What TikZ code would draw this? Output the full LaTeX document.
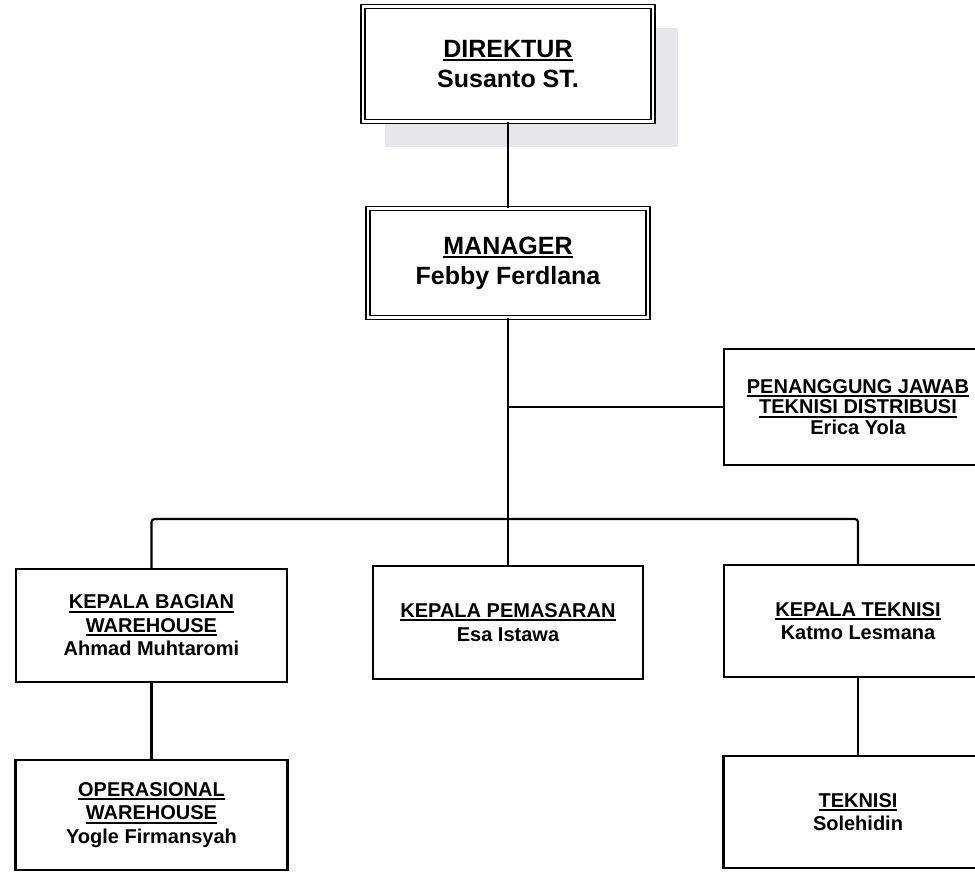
\documentclass[tikz,border=0pt]{standalone}
\usepackage{fontspec}
\setmainfont{Liberation Sans}
\definecolor{shadowgray}{RGB}{231,231,235}
\newcommand\ulx[1]{\setbox0=\hbox{#1}\rlap{\rule[-3.8pt]{\wd0}{2pt}}\box0}
\tikzset{
  bigbox/.style={draw=black, double=white, double distance=2.5pt, line width=1.4pt, fill=white,
    inner sep=0pt, align=center, font=\bfseries\fontsize{25}{30}\selectfont},
  smallbox/.style={draw=black, line width=2.1pt, fill=white, inner sep=0pt, align=center,
    font=\bfseries\fontsize{20}{23.5}\selectfont},
  conn/.style={draw=black, line width=2.1pt},
}
\begin{document}
\begin{tikzpicture}[x=1pt, y=-1pt]
\useasboundingbox (0,0) rectangle (975,871);
\clip (0,0) rectangle (975,871);
\fill[white] (0,0) rectangle (975,871);
% shadow behind director box
\fill[shadowgray] (385,28) rectangle (678,147);
\node[bigbox, minimum width=290pt, minimum height=115pt] (dir) at (508,64) {\ulx{DIREKTUR}\\Susanto ST.};
\node[bigbox, minimum width=280pt, minimum height=109pt] (man) at (508,263) {\ulx{MANAGER}\\Febby Ferdlana};
\node[smallbox, minimum width=268pt, minimum height=116pt, font=\bfseries\fontsize{20}{20.5}\selectfont] (pj) at (858,407) {\ulx{PENANGGUNG JAWAB}\\\ulx{TEKNISI DISTRIBUSI}\\Erica Yola};
\node[smallbox, minimum width=271pt, minimum height=113pt] (kbw) at (151.5,625.5) {\ulx{KEPALA BAGIAN}\\\ulx{WAREHOUSE}\\Ahmad Muhtaromi};
\node[smallbox, minimum width=270pt, minimum height=113pt] (kp) at (508,622.5) {\ulx{KEPALA PEMASARAN}\\Esa Istawa};
\node[smallbox, minimum width=268pt, minimum height=112pt] (kt) at (858,621) {\ulx{KEPALA TEKNISI}\\Katmo Lesmana};
\node[smallbox, minimum width=272pt, minimum height=110pt] (ow) at (151.5,815) {\ulx{OPERASIONAL}\\\ulx{WAREHOUSE}\\Yogle Firmansyah};
\node[smallbox, minimum width=269pt, minimum height=112pt] (tek) at (858,812) {\ulx{TEKNISI}\\Solehidin};
% connectors
\draw[conn] (dir.south) -- (dir.south |- man.north);
\draw[conn] (man.south) -- (man.south |- kp.north);
\coordinate (br) at (man.south |- pj.west);
\draw[conn] (br) -- (pj.west);
\coordinate (busR) at (858,519);
\draw[conn, rounded corners=3pt] (kbw.north) |- (busR) -- (kt.north);
\draw[conn] (kbw.south) -- (kbw.south |- ow.north);
\draw[conn] (kt.south) -- (kt.south |- tek.north);
\end{tikzpicture}
\end{document}
